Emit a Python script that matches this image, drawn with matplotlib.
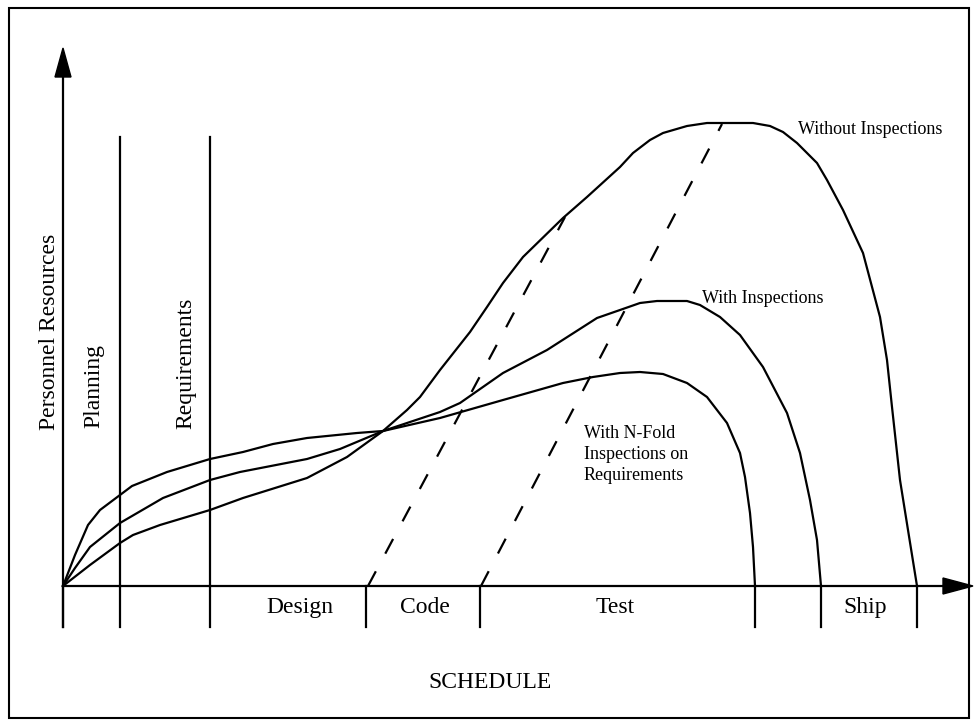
import matplotlib.pyplot as plt
from matplotlib.patches import Polygon, Rectangle

plt.rcParams['font.family'] = ['Liberation Serif', 'DejaVu Serif']

# courbes d'effectif (coordonnées, en pixels)
nfold_x = [63, 75, 88, 100, 120, 132, 167, 210, 243, 273, 307, 357, 383, 440, 503,
           563, 593, 620, 640, 663, 687, 707, 727, 740, 745, 750, 753, 755]
nfold_y = [586, 555, 525, 510, 495, 486, 472, 459, 452, 444, 438, 433, 431, 418, 400,
           383, 377, 373, 372, 374, 383, 397, 423, 453, 477, 513, 547, 586]

with_x = [63, 75, 90, 120, 163, 210, 240, 307, 340, 383, 440, 460, 503, 547, 597,
          620, 640, 657, 687, 700, 720, 740, 763, 787, 800, 810, 817, 821]
with_y = [586, 568, 547, 523, 498, 480, 472, 459, 449, 431, 412, 403, 373, 350, 318,
          310, 303, 301, 301, 305, 317, 335, 367, 413, 453, 500, 540, 586]

without_x = [63, 90, 120, 133, 160, 210, 243, 307, 347, 383, 407, 420, 440, 470, 487,
             503, 523, 563, 587, 620, 633, 650, 663, 687, 707, 753, 770, 783, 797, 817,
             827, 843, 863, 880, 887, 892, 900, 908, 917]
without_y = [586, 565, 543, 535, 525, 510, 498, 478, 457, 431, 410, 397, 370, 332, 307,
             283, 257, 218, 197, 167, 153, 140, 133, 126, 123, 123, 126, 132, 143, 163,
             180, 210, 253, 317, 360, 407, 480, 530, 586]

# lignes pointillées (début du code / début des tests)
dash1_x = [368, 565]
dash1_y = [586, 217]
dash2_x = [481, 722]
dash2_y = [586, 124]

# phases
phase_lines = [120, 210]
ticks_x = [63, 120, 210, 366, 480, 755, 821, 917]
phase_labels = ['Design', 'Code', 'Test', 'Ship']
phase_label_x = [300, 425, 615, 865]
nfold_lines = ['With N-Fold', 'Inspections on', 'Requirements']
nfold_line_y = [438, 459, 480]

x0, y0 = 63, 586

fig = plt.figure(figsize=(9.77, 7.26), dpi=100)
ax = fig.add_axes([0, 0, 1, 1])
ax.set_xlim(0, 977)
ax.set_ylim(726, 0)
ax.axis('off')

lw = 1.6
# cadre
ax.add_patch(Rectangle((9, 8), 960, 710, fill=False, ec='black', lw=1.5))

# axes avec flèches
ax.plot([x0, x0], [627, 77], color='black', lw=lw)
ax.plot([x0, 943], [y0, y0], color='black', lw=lw)
ax.add_patch(Polygon([(x0, 48), (x0 - 8, 77), (x0 + 8, 77)], closed=True, fc='black', ec='black'))
ax.add_patch(Polygon([(973, y0), (943, y0 - 8), (943, y0 + 8)], closed=True, fc='black', ec='black'))

for xv in phase_lines:
    ax.plot([xv, xv], [137, y0], color='black', lw=lw)
for xv in ticks_x:
    ax.plot([xv, xv], [y0, 627], color='black', lw=lw)

# courbes
for cx, cy in [(nfold_x, nfold_y), (with_x, with_y), (without_x, without_y)]:
    ax.plot(cx, cy, color='black', lw=lw, solid_joinstyle='round')

for dx, dy in [(dash1_x, dash1_y), (dash2_x, dash2_y)]:
    ax.plot(dx, dy, color='black', lw=lw, linestyle=(0, (7.5, 9.0)))

# textes
big = 17
small = 13
for lab, xl in zip(phase_labels, phase_label_x):
    ax.text(xl, 613, lab, fontsize=big, ha='center', va='baseline')
ax.text(490, 688, 'SCHEDULE', fontsize=big, ha='center', va='baseline')
ax.text(50, 332, 'Personnel Resources', fontsize=big, rotation=90, ha='center', va='center')
ax.text(94, 386, 'Planning', fontsize=big, rotation=90, ha='center', va='center')
ax.text(186, 363, 'Requirements', fontsize=big, rotation=90, ha='center', va='center')

ax.text(798, 134, 'Without Inspections', fontsize=small, ha='left', va='baseline')
ax.text(702, 303, 'With Inspections', fontsize=small, ha='left', va='baseline')
for line, yl in zip(nfold_lines, nfold_line_y):
    ax.text(584, yl, line, fontsize=small, ha='left', va='baseline')

fig.savefig('out.png', dpi=100)
